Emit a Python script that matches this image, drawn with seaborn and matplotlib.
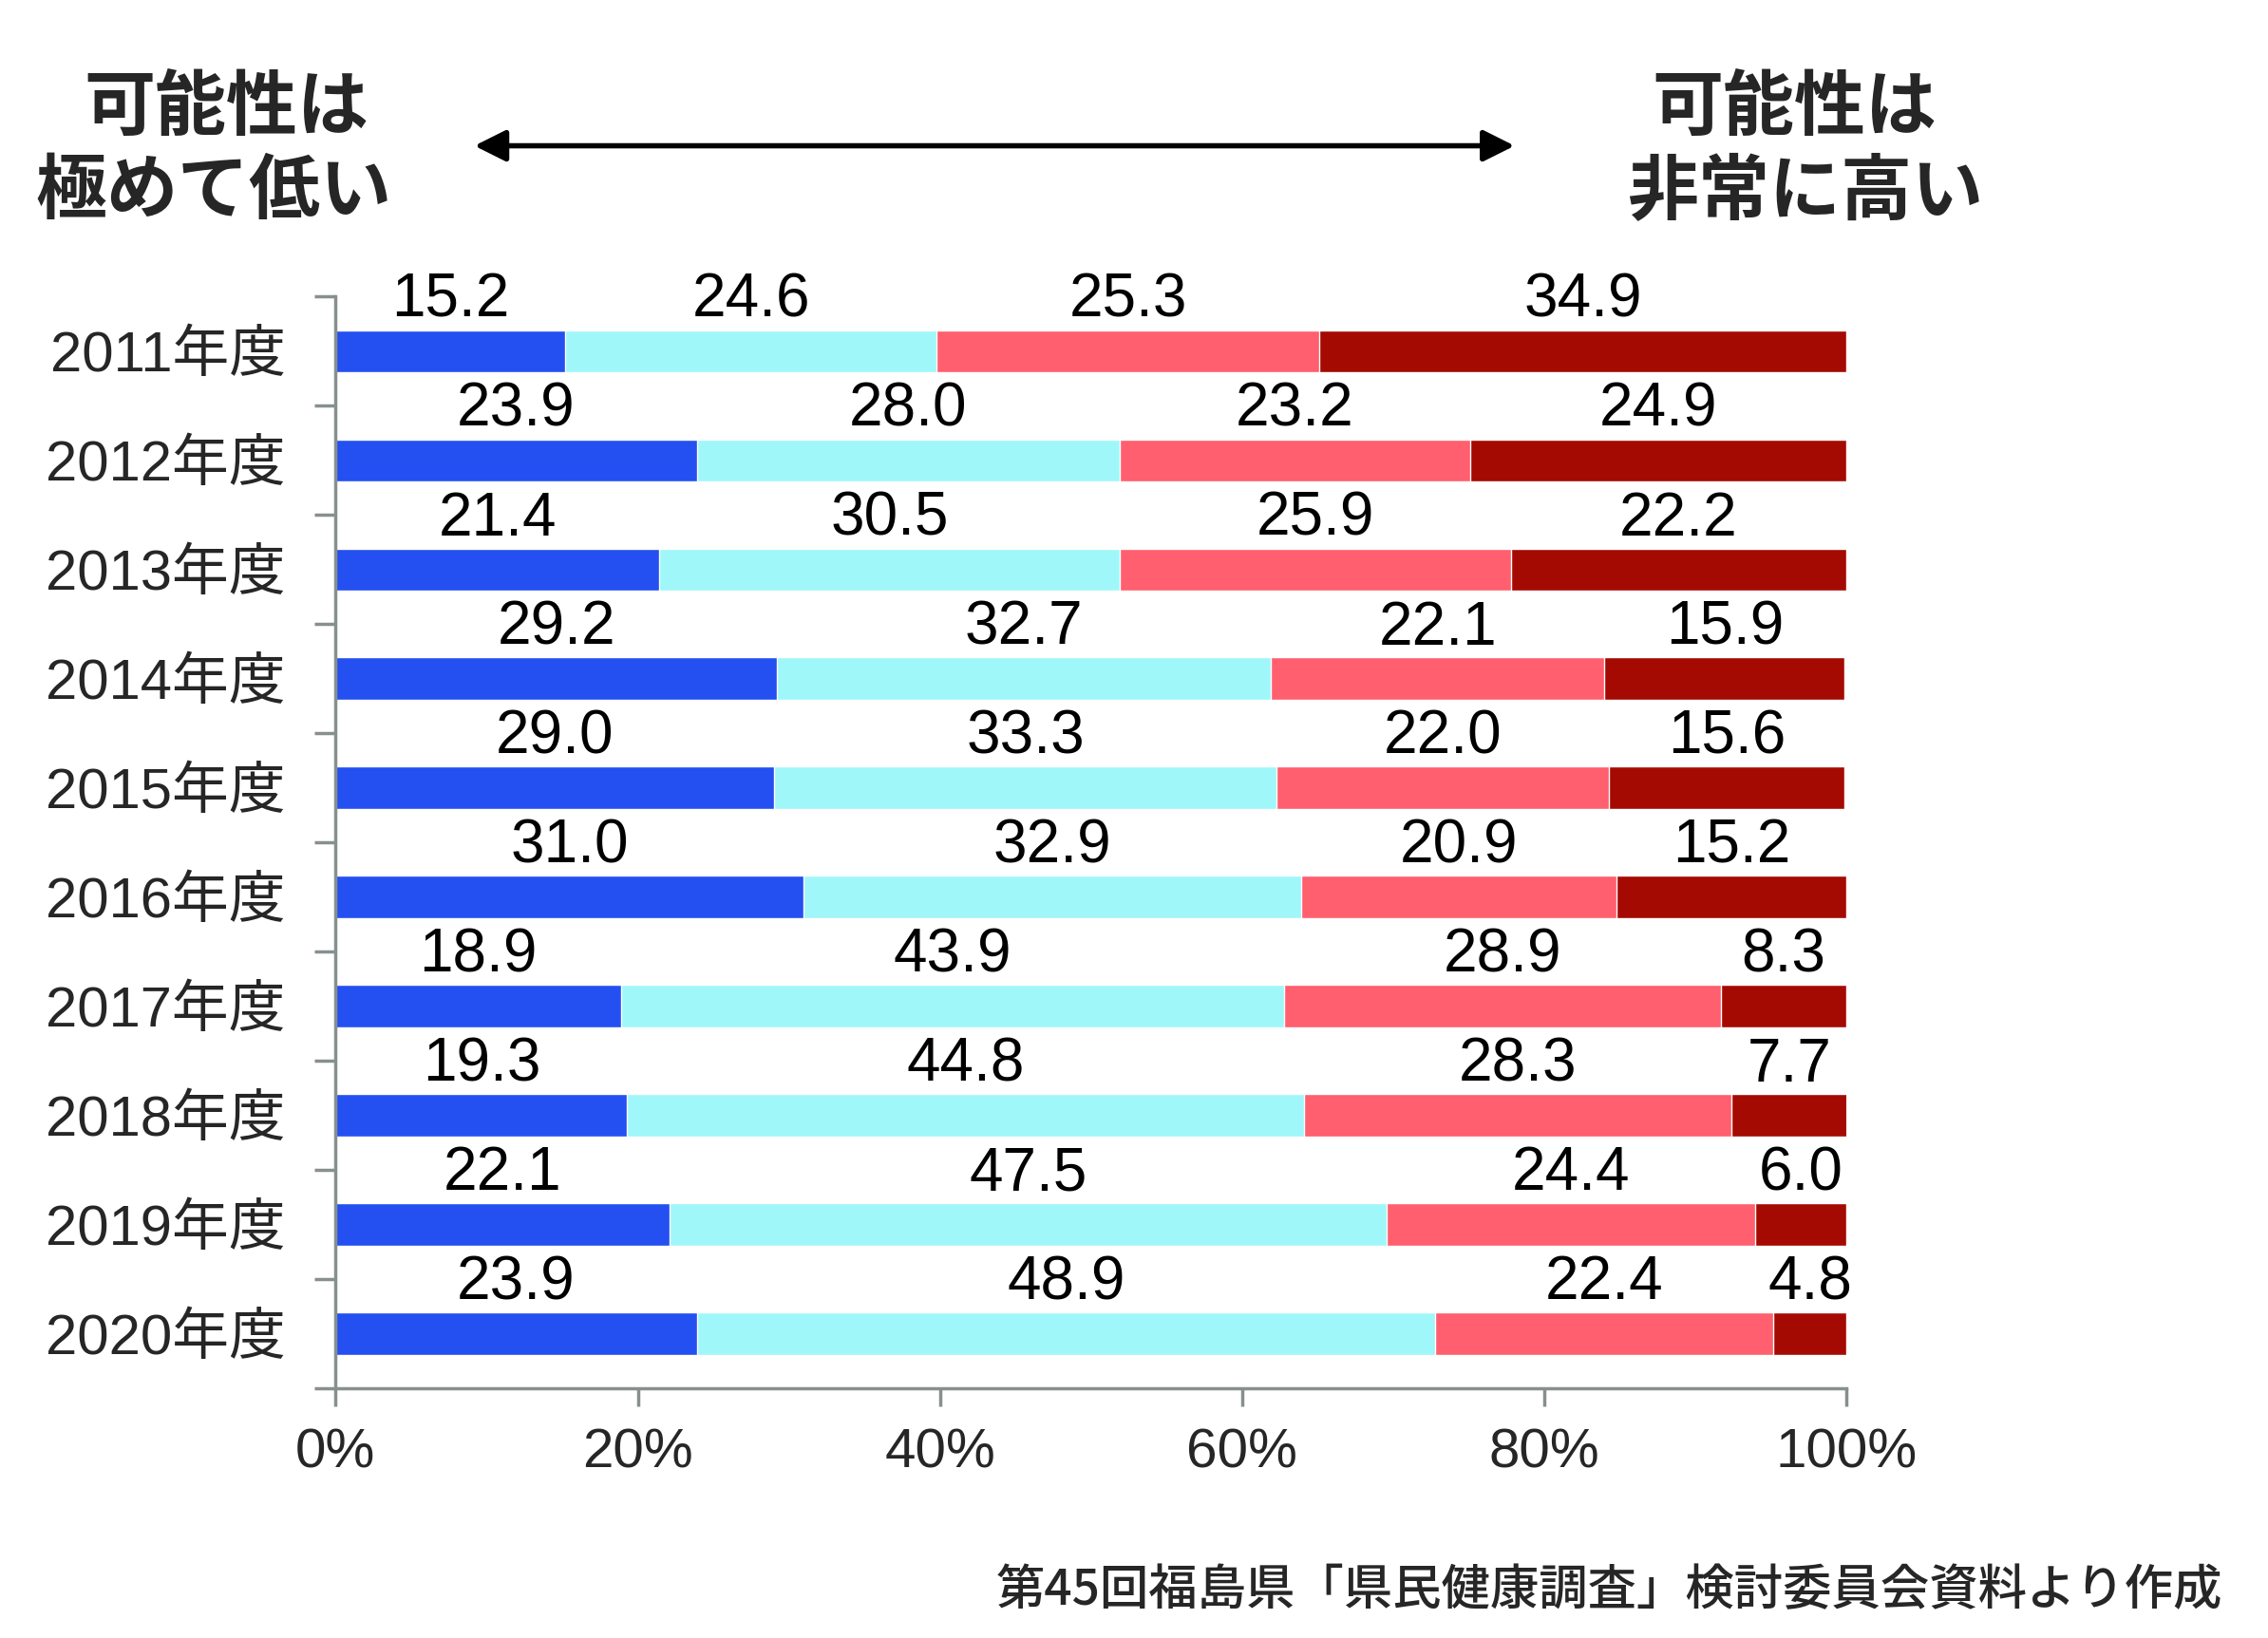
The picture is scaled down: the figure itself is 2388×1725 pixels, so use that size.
import matplotlib
matplotlib.use("Agg")
from matplotlib import pyplot as plt
from matplotlib.patches import FancyArrowPatch
import seaborn as sns
import pandas as pd
import numpy as np

years = ["2011年度", "2012年度", "2013年度", "2014年度", "2015年度",
         "2016年度", "2017年度", "2018年度", "2019年度", "2020年度"]
very_low = [15.2, 23.9, 21.4, 29.2, 29.0, 31.0, 18.9, 19.3, 22.1, 23.9]
low = [24.6, 28.0, 30.5, 32.7, 33.3, 32.9, 43.9, 44.8, 47.5, 48.9]
high = [25.3, 23.2, 25.9, 22.1, 22.0, 20.9, 28.9, 28.3, 24.4, 22.4]
very_high = [34.9, 24.9, 22.2, 15.9, 15.6, 15.2, 8.3, 7.7, 6.0, 4.8]
tick_labels = ["0%", "20%", "40%", "60%", "80%", "100%"]

colors = ["#2450f2", "#a0f7fa", "#ff5f6e", "#a50a02"]
num_font = ["Liberation Sans", "Noto Sans CJK JP"]
jp_font = ["Noto Sans CJK JP", "DejaVu Sans"]

sns.set_style("white")
plt.rcParams["font.family"] = num_font

df = pd.DataFrame({"year": years, "s1": very_low, "s2": low,
                   "s3": high, "s4": very_high})
parts = ["s1", "s2", "s3", "s4"]
cum = df[parts].cumsum(axis=1)

fig = plt.figure(figsize=(23.88, 17.25), dpi=100)
ax = fig.add_axes([0.148, 0.1525, 0.666, 0.6665])

# stacked bars: draw cumulative totals from the widest down
for i in range(3, -1, -1):
    sns.barplot(x=cum[parts[i]], y=df["year"], orient="h", color=colors[i],
                width=0.385, saturation=1, ax=ax, order=years)

# value labels above the middle of each segment
for r in range(len(years)):
    left = 0.0
    for i, p in enumerate(parts):
        v = df[p].iloc[r]
        ax.text(left + v / 2, r - 0.2, f"{v:.1f}", ha="center", va="bottom",
                fontsize=46, color="black", family=num_font)
        left += v

ax.set_xlim(0, 100)
ax.set_ylim(len(years) - 0.5, -0.5)
ax.set_xticks(np.arange(0, 101, 20))
ax.set_xticklabels(tick_labels, fontsize=42)
ax.set_yticks(range(len(years)))
ax.set_yticklabels(years, fontsize=43, family=num_font)
ax.set_yticks(np.arange(-0.5, len(years), 1.0), minor=True)
ax.set_xlabel("")
ax.set_ylabel("")

axis_col = "#878f8f"
for side in ["top", "right"]:
    ax.spines[side].set_visible(False)
for side in ["left", "bottom"]:
    ax.spines[side].set_color(axis_col)
    ax.spines[side].set_linewidth(2.5)
ax.tick_params(axis="y", which="major", left=True, length=0, pad=38)
ax.tick_params(axis="y", which="minor", left=True, length=16, width=2.5,
               color=axis_col)
ax.tick_params(axis="x", bottom=True, length=14, width=2.5, color=axis_col,
               pad=16)

# header texts and arrow
hdr = dict(fontsize=54, fontweight="bold", family=jp_font, ha="center", va="center")
fig.text(0.100, 0.934, "可能性は", **hdr)
fig.text(0.094, 0.883, "極めて低い", **hdr)
fig.text(0.791, 0.934, "可能性は", **hdr)
fig.text(0.796, 0.883, "非常に高い", **hdr)
fig.add_artist(FancyArrowPatch(
    (0.208, 0.911), (0.669, 0.911), transform=fig.transFigure,
    arrowstyle="<|-|>,head_length=0.5,head_width=0.25", mutation_scale=40,
    lw=4, color="black"))

fig.text(0.980, 0.029, "第45回福島県「県民健康調査」検討委員会資料より作成",
         fontsize=37, fontweight="medium", family=jp_font, ha="right",
         va="center")

fig.savefig("out.png", dpi=100)
